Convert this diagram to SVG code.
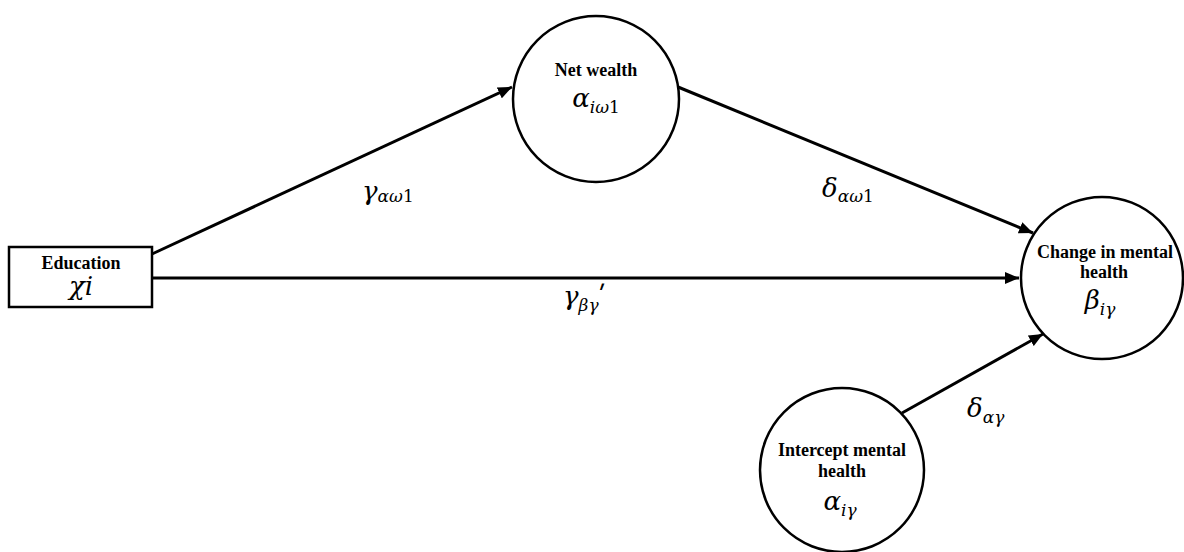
<svg xmlns="http://www.w3.org/2000/svg" width="1184" height="552" viewBox="0 0 1184 552">
<style>
.node{fill:#fff;stroke:#000;stroke-width:2.5}
.lbl{font-family:"Liberation Serif",serif;font-weight:bold;font-size:18px;fill:#000;text-anchor:middle}
.m{font-family:"DejaVu Serif",serif;font-style:italic;font-size:26px;fill:#000}
.s{font-size:17px}
.u{font-style:normal}
.c{stroke:#000;stroke-width:3;fill:none;marker-end:url(#ah)}
</style>
<defs>
<marker id="ah" markerUnits="userSpaceOnUse" markerWidth="16" markerHeight="12" refX="14" refY="6" orient="auto">
<path d="M0,0 L14,6 L0,12 Z" fill="#000"/>
</marker>
</defs>
<rect width="1184" height="552" fill="#fff"/>
<g id="connectors">
<line class="c" x1="152" y1="254" x2="512" y2="87"/>
<line class="c" x1="678" y1="87" x2="1033" y2="233"/>
<line class="c" x1="152" y1="278" x2="1019" y2="278"/>
<line class="c" x1="902" y1="413" x2="1043" y2="334"/>
<text class="m" x="362" y="200">γ<tspan class="s" dy="2">αω<tspan class="u">1</tspan></tspan></text>
<text class="m" x="563" y="305">γ<tspan class="s" dy="6">βγ</tspan><tspan dy="-6">ʹ</tspan></text>
<text class="m" x="822" y="197">δ<tspan class="s" dy="5">αω<tspan class="u">1</tspan></tspan></text>
<text class="m" x="967" y="417">δ<tspan class="s" dy="6">αγ</tspan></text>
</g>
<g id="education">
<rect class="node" x="9" y="247" width="143" height="60"/>
<text class="lbl" x="81" y="269">Education</text>
<text class="m" x="81" y="295" text-anchor="middle">χi</text>
</g>
<g id="net-wealth">
<circle class="node" cx="596" cy="99" r="83"/>
<text class="lbl" x="596" y="76">Net wealth</text>
<text class="m" x="596" y="107" text-anchor="middle">α<tspan class="s" dy="6">iω<tspan class="u">1</tspan></tspan></text>
</g>
<g id="change-mental-health">
<circle class="node" cx="1102" cy="278" r="81"/>
<text class="lbl" x="1105" y="258">Change in mental</text>
<text class="lbl" x="1104" y="278">health</text>
<text class="m" x="1100" y="309" text-anchor="middle">β<tspan class="s" dy="6">iγ</tspan></text>
</g>
<g id="intercept-mental-health">
<circle class="node" cx="842" cy="470" r="82"/>
<text class="lbl" x="842" y="456">Intercept mental</text>
<text class="lbl" x="842" y="477">health</text>
<text class="m" x="840" y="510" text-anchor="middle">α<tspan class="s" dy="6">iγ</tspan></text>
</g>
</svg>
